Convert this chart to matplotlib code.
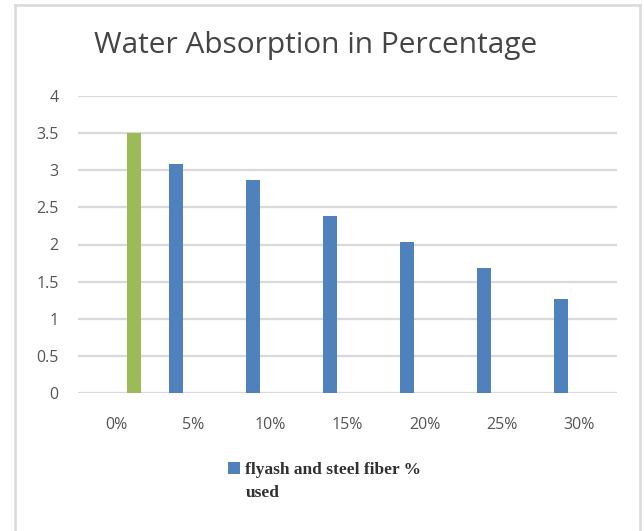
import matplotlib
matplotlib.use("Agg")
import matplotlib.pyplot as plt
from matplotlib.patches import Patch
from matplotlib.lines import Line2D
from matplotlib.offsetbox import HPacker
import numpy as np

categories = ["0%", "5%", "10%", "15%", "20%", "25%", "30%"]
flyash_values = [0, 3.09, 2.87, 2.38, 2.03, 1.68, 1.27]   # blue series
control_values = [3.5, 0, 0, 0, 0, 0, 0]                  # green series
yticks = [0, 0.5, 1, 1.5, 2, 2.5, 3, 3.5, 4]
ytick_labels = ["0", "0.5", "1", "1.5", "2", "2.5", "3", "3.5", "4"]
title = "Water Absorption in Percentage"
legend_label = "flyash and steel fiber %\nused"

W, H = 644, 531
fig = plt.figure(figsize=(W / 100, H / 100), dpi=100)
fig.patch.set_facecolor("white")

ax = fig.add_axes([78 / W, 1 - 393 / H, (617 - 78) / W, (393 - 96) / H])
x = np.arange(len(categories))
bw = 0.18
blue = "#4f81bd"
green = "#9bbb59"
ax.bar(x - 0.222, flyash_values, width=bw, color=blue, zorder=3)
ax.bar(x + 0.228, control_values, width=bw, color=green, zorder=3)

ax.set_xlim(-0.5, len(categories) - 0.5)
ax.set_ylim(0, 4)
ax.set_yticks(yticks)
ax.set_yticklabels(ytick_labels)
ax.set_xticks(x)
ax.set_xticklabels(categories)
ax.tick_params(axis="y", length=0, pad=14, labelsize=11.5, labelcolor="#555555")
ax.tick_params(axis="x", length=0, pad=17, labelsize=11.5, labelcolor="#555555")
for lbl in ax.get_xticklabels() + ax.get_yticklabels():
    lbl.set_fontfamily("Open Sans")
ax.grid(axis="y", color="#d9d9d9", linewidth=1.6, zorder=0)
for s in ax.spines.values():
    s.set_visible(False)
ax.set_facecolor("white")

fig.text(316 / W, 1 - 45 / H, title, ha="center", va="center",
         fontsize=21.5, color="#454545", family="Open Sans")

handle = Patch(facecolor=blue, edgecolor="none")
leg = fig.legend([handle], [legend_label], loc="upper left",
                 bbox_to_anchor=(228 / W, 1 - 462 / H), bbox_transform=fig.transFigure,
                 frameon=False, borderpad=0, borderaxespad=0,
                 handlelength=0.7, handleheight=0.7, handletextpad=0.3,
                 prop={"family": "Liberation Serif", "weight": "bold", "size": 12.5})
for t in leg.get_texts():
    t.set_linespacing(1.55)
    t.set_color("#303030")


def _set_top(box):
    try:
        kids = box.get_children()
    except Exception:
        return
    if isinstance(box, HPacker):
        box.align = "top"
    for k in kids:
        _set_top(k)


try:
    _set_top(leg._legend_handle_box)
except Exception:
    pass

# chart border (left, top, right)
bc = "#d9d9d9"
fig.add_artist(Line2D([15 / W, 15 / W], [0, 1 - 5 / H], transform=fig.transFigure, color=bc, lw=1.8))
fig.add_artist(Line2D([15 / W, 640 / W], [1 - 5 / H, 1 - 5 / H], transform=fig.transFigure, color=bc, lw=1.8))
fig.add_artist(Line2D([640 / W, 640 / W], [0, 1 - 5 / H], transform=fig.transFigure, color=bc, lw=1.8))

fig.savefig("out.png", dpi=100, facecolor="white")
